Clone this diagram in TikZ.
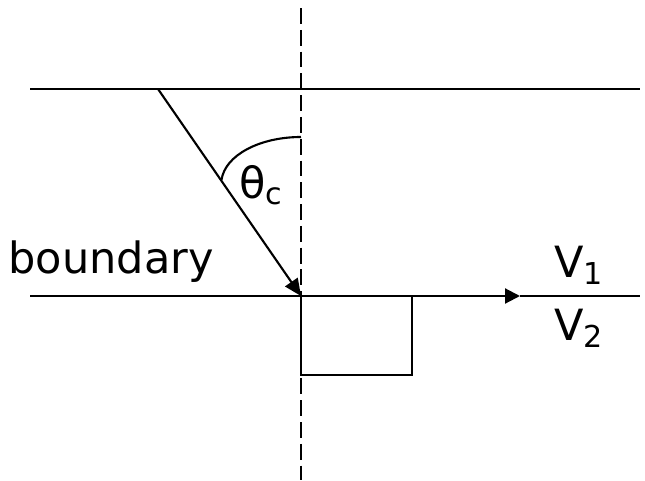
\documentclass[tikz,border=0pt]{standalone}
\usepackage{fontspec}
\setmainfont{DejaVu Sans}
\usetikzlibrary{arrows.meta}
\begin{document}
\begin{tikzpicture}[every node/.style={font=\fontsize{24.5}{28}\selectfont},
  medium/.style={line width=1.2pt},
  raytip/.style={-{Triangle[length=3.4mm,width=3mm]}},
  flowtip/.style={-{Triangle[length=3mm,width=3mm]}}]
\useasboundingbox (0,0) rectangle (12.9,9.6);
% layers and normal
\coordinate (tl) at (0.6,7.82);
\coordinate (tr) at (12.8,7.82);
\coordinate (bl) at (0.6,3.68);
\coordinate (br) at (12.8,3.68);
\coordinate (hit) at (6.02,3.68);
\coordinate (flow) at (10.4,3.68);
\coordinate (ntop) at (6.02,9.44);
\coordinate (nbot) at (6.02,0);
\draw[medium] (tl) -- (tr);
\draw[medium] (bl) -- (hit);
\draw[medium,flowtip] (hit) -- (flow);
\draw[medium] (flow) -- (br);
\draw[medium,dash pattern=on 9pt off 3.4pt] (ntop) -- (nbot);
% incident ray
\coordinate (src) at (3.16,7.82);
\draw[medium,raytip] (src) -- (hit);
\coordinate (a1) at (4.43,6.0);
\coordinate (a2) at (6.02,6.86);
\draw[medium] (a1) .. controls (4.5,6.5) and (5.2,6.86) .. (a2);
\node (theta) at (5.22,5.9) {θ\textsubscript{c}};
\node (bnd) at (2.22,4.36) {boundary};
\node (v1) at (11.58,4.3) {V\textsubscript{1}};
\node (v2) at (11.58,3.04) {V\textsubscript{2}};
% box below the boundary
\draw[line width=0.9pt] (hit) rectangle (8.24,2.1);
\end{tikzpicture}
\end{document}
